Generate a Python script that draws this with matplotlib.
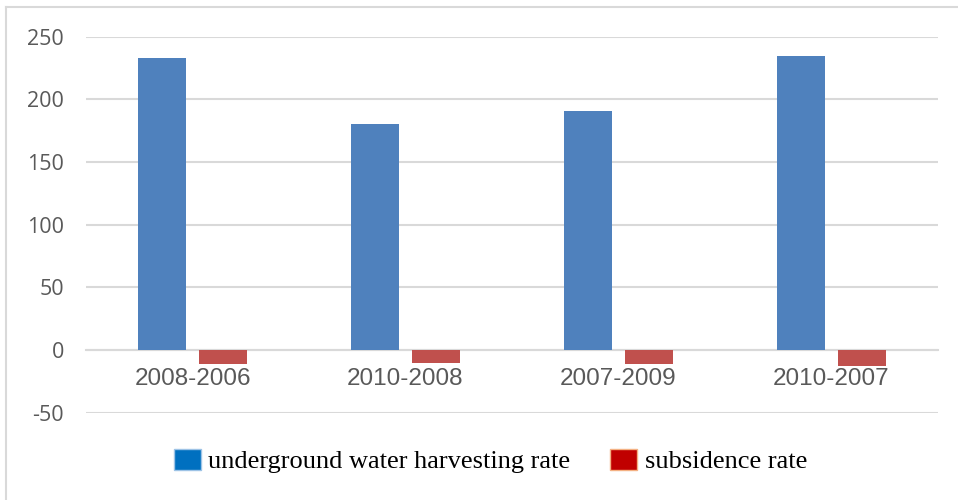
import numpy as np
import matplotlib.pyplot as plt
from matplotlib.patches import Patch
from matplotlib.lines import Line2D

plt.rcParams['axes.unicode_minus'] = False

# datos
periodos = ['2008-2006', '2010-2008', '2007-2009', '2010-2007']
extraccion = [233, 180, 191, 235]
hundimiento = [-11, -10, -11, -13]

nombres = ['underground water harvesting rate', 'subsidence rate']

c_barra_azul = '#4F81BD'
c_barra_roja = '#C0504D'
c_ley_azul = '#0070C0'
c_ley_roja = '#C00000'
gris = '#D9D9D9'

fig = plt.figure(figsize=(9.58, 5.0), dpi=100)
ax = fig.add_axes([86/958, 1 - 412.7/500, 852/958, 376/500])

x = np.arange(len(periodos))
ancho = 0.225
ax.bar(x - 0.143, extraccion, ancho, color=c_barra_azul, zorder=3)
ax.bar(x + 0.143, hundimiento, ancho, color=c_barra_roja, zorder=3)

ax.set_xlim(-0.5, len(periodos) - 0.5)
ax.set_ylim(-50, 250)
ax.set_yticks(np.arange(-50, 251, 50))
ax.yaxis.grid(True, color=gris, linewidth=1.5, zorder=0)
ax.set_axisbelow(True)

for s in ['top', 'right', 'left']:
    ax.spines[s].set_visible(False)
ax.spines['bottom'].set_position(('data', 0))
ax.spines['bottom'].set_color(gris)
ax.spines['bottom'].set_linewidth(1.5)

ax.set_xticks(x)
ax.set_xticklabels(periodos, fontfamily='Liberation Sans', fontsize=17.5, color='#595959')
ax.tick_params(axis='x', length=0, pad=13)
ax.tick_params(axis='y', length=0, pad=16)
for t in ax.get_yticklabels():
    t.set_fontfamily('Open Sans')
    t.set_fontsize(15.5)
    t.set_color('#595959')

# leyenda con colores propios
handles = [Patch(facecolor=c_ley_azul, edgecolor='#9DC3E6'),
           Patch(facecolor=c_ley_roja, edgecolor='#F4B183')]
fig.legend(handles, nombres, loc='center', bbox_to_anchor=(0.512, 0.078),
           ncol=2, frameon=False, handlelength=1.02, handleheight=0.85,
           handletextpad=0.3, columnspacing=1.5,
           prop={'family': 'Liberation Serif', 'size': 19})

# marco del grafico (solo arriba e izquierda visibles)
fig.add_artist(Line2D([6/958, 1], [1 - 7/500, 1 - 7/500], color=gris, linewidth=1.5))
fig.add_artist(Line2D([6/958, 6/958], [0, 1 - 7/500], color=gris, linewidth=1.5))

fig.savefig('out.png', dpi=100)
